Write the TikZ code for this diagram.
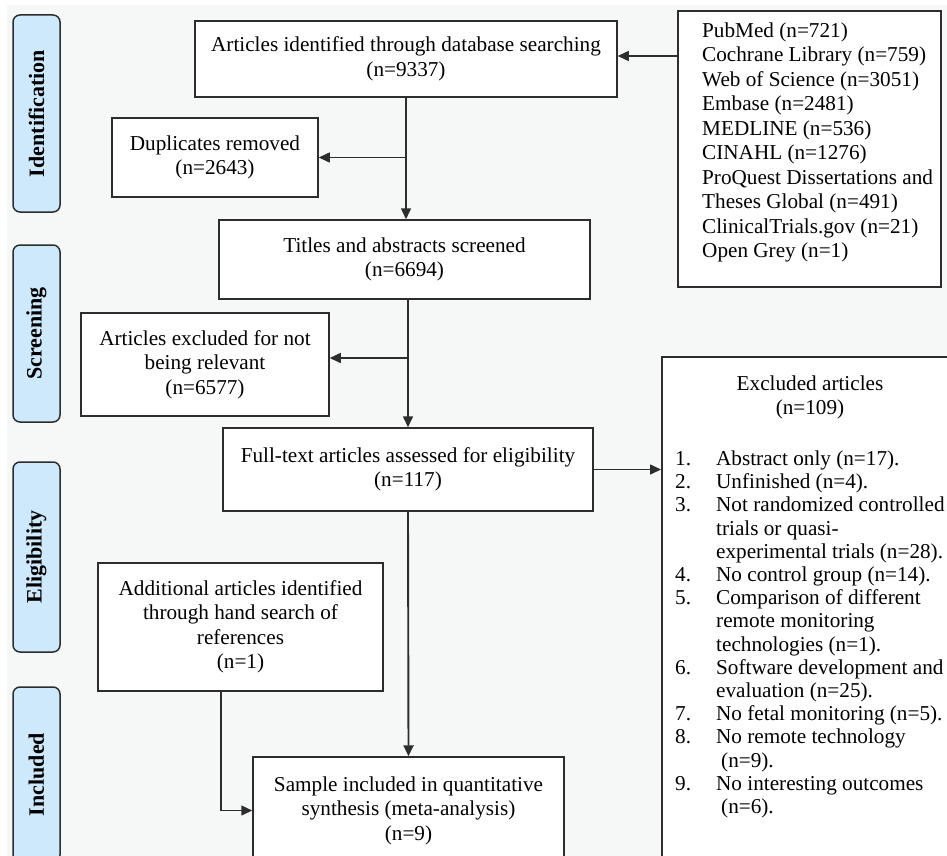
\documentclass[tikz,border=0pt]{standalone}
\usepackage{fontspec}
\setmainfont{Liberation Serif}
\usetikzlibrary{arrows.meta}
\definecolor{bg}{RGB}{246,248,248}
\definecolor{edge}{RGB}{45,45,45}
\definecolor{tabfill}{RGB}{206,233,251}
\newcommand{\fsmain}{\fontsize{21.2}{24.5}\selectfont}
\newcommand{\fslist}{\fontsize{21.2}{23.2}\selectfont}
\begin{document}
\begin{tikzpicture}[x=1pt,y=-1pt,
  box/.style={draw=edge, fill=white, line width=1.5pt, align=center, inner sep=0pt, font=\fsmain},
  tab/.style={draw=edge, fill=tabfill, line width=1.5pt, rounded corners=7pt, rotate=90, inner sep=0pt, font=\fontsize{22}{24}\selectfont\bfseries, minimum height=47pt},
  plain/.style={inner sep=0pt, font=\fsmain},
  arr/.style={draw=edge, line width=1.5pt, -{Triangle[length=11pt,width=10pt]}},
  ]
\useasboundingbox (0,0) rectangle (947,856);
\clip (0,0) rectangle (947,856);
\fill[white] (0,0) rectangle (947,856);
\fill[bg] (7,5) rectangle (947,856);

% phase tabs
\node[tab, minimum width=197pt] (tid) at (36.5,113.5) {Identification};
\node[tab, minimum width=177pt] (tscr) at (36.5,333.5) {Screening};
\node[tab, minimum width=190pt] (telig) at (36.5,557) {Eligibility};
\node[tab, minimum width=175pt] (tinc) at (36.5,774.5) {Included};

% boxes
\node[box, minimum width=422pt, minimum height=76pt] (a1) at (406,59) {Articles identified through database searching\\(n=9337)};
\node[box, minimum width=263pt, minimum height=276pt] (db) at (809.5,149) {};
\node[plain, anchor=north west] (dbtxt) at (702,20) {\begin{tabular}{@{}l@{}}
PubMed (n=721)\\
Cochrane Library (n=759)\\
Web of Science (n=3051)\\
Embase (n=2481)\\
MEDLINE (n=536)\\
CINAHL (n=1276)\\
ProQuest Dissertations and\\
Theses Global (n=491)\\
ClinicalTrials.gov (n=21)\\
Open Grey (n=1)
\end{tabular}};
\node[box, minimum width=206pt, minimum height=79pt] (dup) at (215,157.5) {Duplicates removed\\(n=2643)};
\node[box, minimum width=371pt, minimum height=79pt] (title) at (404.5,259.5) {Titles and abstracts screened\\(n=6694)};
\node[box, minimum width=248pt, minimum height=103pt] (irr) at (205,364.5) {Articles excluded for not\\being relevant\\(n=6577)};
\node[box, minimum width=370pt, minimum height=83pt] (ft) at (408,469.5) {Full-text articles assessed for eligibility\\(n=117)};
\node[box, minimum width=300pt, minimum height=520pt, anchor=north west] (excl) at (661,356) {};
\node[plain, align=center] (exclhead) at (810,397.5) {Excluded articles\\(n=109)};
\node[plain, anchor=north west, font=\fslist] (excllist) at (675,449) {\begin{tabular}{@{}p{41pt}@{}l@{}}
1. & Abstract only (n=17).\\
2. & Unfinished (n=4).\\
3. & Not randomized controlled\\
   & trials or quasi-\\
   & experimental trials (n=28).\\
4. & No control group (n=14).\\
5. & Comparison of different\\
   & remote monitoring\\
   & technologies (n=1).\\
6. & Software development and\\
   & evaluation (n=25).\\
7. & No fetal monitoring (n=5).\\
8. & No remote technology\\
   & \hspace{5pt}(n=9).\\
9. & No interesting outcomes\\
   & \hspace{5pt}(n=6).
\end{tabular}};
\node[box, minimum width=285pt, minimum height=128pt] (add) at (240.5,627) {Additional articles identified\\through hand search of\\references\\(n=1)};
\node[box, minimum width=311pt, minimum height=107pt] (sample) at (408.5,810.5) {Sample included in quantitative\\synthesis (meta-analysis)\\(n=9)};

% connectors
\draw[arr] (db.west |- 0,56) -- (a1.east |- 0,56);
\draw[arr] (a1.south) -- (a1.south |- title.north);
\coordinate (b1) at (a1.south |- dup.east);
\draw[arr] (b1) -- (dup.east);
\draw[arr] (title.south -| ft.north) -- (ft.north);
\coordinate (b2) at (ft.north |- 0,358);
\draw[arr] (b2) -- (irr.east |- b2);
\draw[arr] (ft.east) -- (excl.west |- ft.east);
\draw[arr, line width=1.9pt] (ft.south) -- (sample.north);
\draw[arr] ([xshift=-19.5pt]add.south) |- (sample.west);
\end{tikzpicture}
\end{document}
